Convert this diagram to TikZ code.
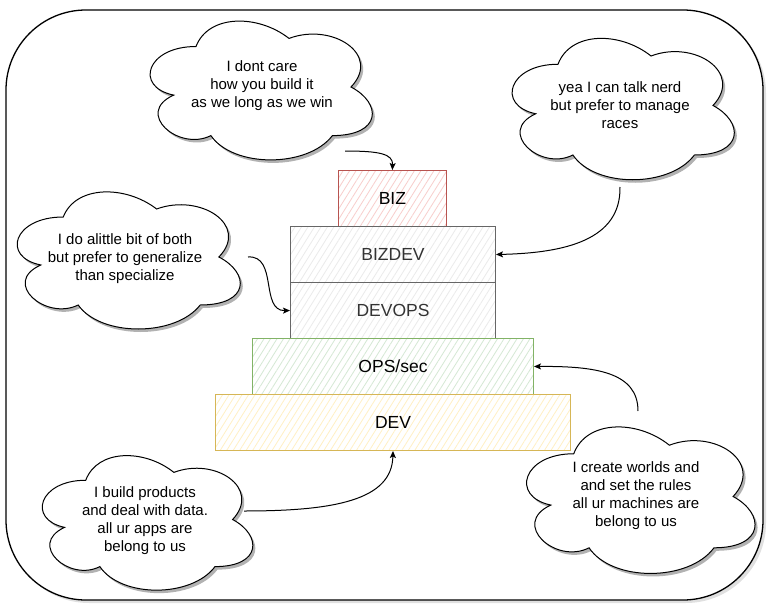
\documentclass[tikz,border=0pt]{standalone}
\usepackage{fontspec}
\setmainfont{Liberation Sans}
\usetikzlibrary{arrows.meta,patterns.meta}
\definecolor{redline}{HTML}{B85450}
\definecolor{redfill}{HTML}{F8CECC}
\definecolor{grayline}{HTML}{666666}
\definecolor{grayfill}{HTML}{EBEBEB}
\definecolor{greenline}{HTML}{82B366}
\definecolor{greenfill}{HTML}{D5E8D4}
\definecolor{yellowline}{HTML}{D6B656}
\definecolor{yellowfill}{HTML}{FFF0C4}
\definecolor{darktext}{HTML}{333333}
\newcommand{\dcloud}[4]{%
\begin{scope}[shift={(#1,#2)}, x=#3pt, y=-#4pt]
\begin{scope}[shift={(2.5pt,-3pt)}]
\fill[cloudshadow] (0.25,0.25) .. controls (0.05,0.25) and (0,0.5) .. (0.16,0.55) .. controls (0,0.66) and (0.18,0.9) .. (0.31,0.8) .. controls (0.4,1) and (0.7,1) .. (0.8,0.8) .. controls (1,0.8) and (1,0.6) .. (0.875,0.5) .. controls (1,0.3) and (0.8,0.1) .. (0.625,0.2) .. controls (0.5,0.05) and (0.3,0.05) .. (0.25,0.25) -- cycle;
\end{scope}
\filldraw[cloudline] (0.25,0.25) .. controls (0.05,0.25) and (0,0.5) .. (0.16,0.55) .. controls (0,0.66) and (0.18,0.9) .. (0.31,0.8) .. controls (0.4,1) and (0.7,1) .. (0.8,0.8) .. controls (1,0.8) and (1,0.6) .. (0.875,0.5) .. controls (1,0.3) and (0.8,0.1) .. (0.625,0.2) .. controls (0.5,0.05) and (0.3,0.05) .. (0.25,0.25) -- cycle;
\end{scope}}
\begin{document}
\begin{tikzpicture}[x=1pt,y=-1pt,
  cloudshadow/.style={fill=black, opacity=0.3},
  cloudline/.style={draw=black, fill=white, line width=1pt},
  cloudtext/.style={align=center, inner sep=0pt, font=\fontsize{15}{18}\selectfont},
  layer/.style={draw, line width=1pt, minimum height=56pt, inner sep=0pt, anchor=north west, font=\fontsize{17.5}{21}\selectfont},
  hatch/.style={pattern={Lines[angle=58,distance=5.5pt,line width=0.8pt]}, pattern color=#1},
  arr/.style={-{Stealth[length=7pt,width=6pt,inset=1.5pt]}, line width=1pt, black}]
\useasboundingbox (0,0) rectangle (780,616);
% outer frame
\fill[black, opacity=0.12, rounded corners=80pt] (9,13) rectangle (766,603);
\draw[line width=1.3pt, fill=white, rounded corners=80pt] (6,10) rectangle (763,600);
% layers
\node[layer, draw=redline, hatch=redfill, minimum width=108pt] (biz) at (338,170) {BIZ};
\node[layer, draw=grayline, hatch=grayfill, text=darktext, minimum width=205pt] (bizdev) at (290,226) {BIZDEV};
\node[layer, draw=grayline, hatch=grayfill, text=darktext, minimum width=205pt] (devops) at (290,282) {DEVOPS};
\node[layer, draw=greenline, hatch=greenfill, minimum width=281pt] (ops) at (252,338) {OPS/sec};
\node[layer, draw=yellowline, hatch=yellowfill, minimum width=355pt] (dev) at (215,394) {DEV};
% clouds
\dcloud{134}{6}{248}{162}
\node[cloudtext] (cbiz) at (262,86) {I dont care\\how you build it\\as we long as we win};
\dcloud{496}{23}{248}{165}
\node[cloudtext] (cbizdev) at (620,105) {yea I can talk nerd\\but prefer to manage\\races};
\dcloud{1}{177}{249}{160}
\node[cloudtext] (cdevops) at (125,259) {I do alittle bit of both\\but prefer to generalize\\than specialize};
\dcloud{27}{441}{235}{157}
\node[cloudtext] (cdev) at (145,521) {I build products\\and deal with data.\\all ur apps are\\belong to us};
\dcloud{510}{411}{255}{171}
\node[cloudtext] (cops) at (636,496) {I create worlds and\\and set the rules\\all ur machines are\\belong to us};
% arrows
\coordinate (s1) at (345,151);
\coordinate (s2) at (620,187);
\coordinate (s3) at (248,257);
\coordinate (s4) at (638,411);
\coordinate (s5) at (244,511);
\draw[arr] (s1) .. controls (380,151) and (393,154) .. (biz.north);
\draw[arr] (s2) .. controls (621,240) and (565,253) .. (bizdev.east);
\draw[arr] (s3) .. controls (278,255) and (260,311) .. (devops.west);
\draw[arr] (s4) .. controls (638,372) and (595,366) .. (ops.east);
\draw[arr] (s5) .. controls (335,511) and (392,500) .. (dev.south);
\end{tikzpicture}
\end{document}
